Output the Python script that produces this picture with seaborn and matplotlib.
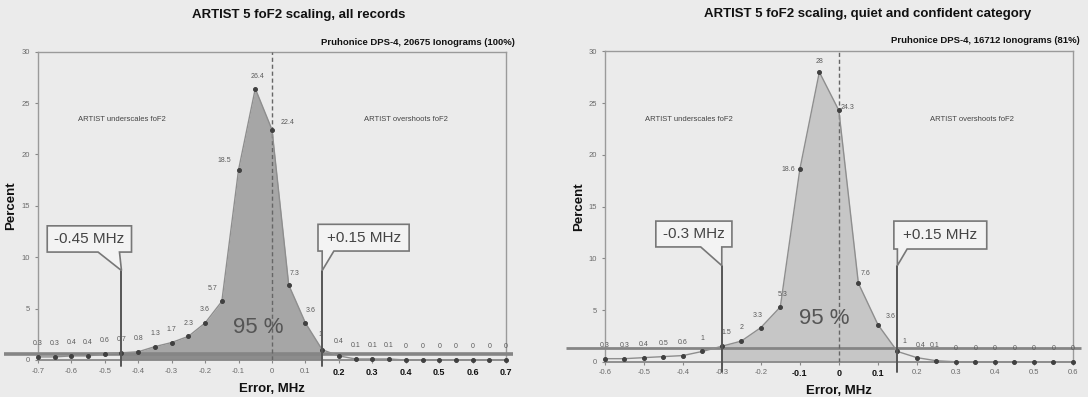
import matplotlib
matplotlib.use("Agg")
import matplotlib.pyplot as plt
from matplotlib.patches import Polygon
import numpy as np
import pandas as pd
import seaborn as sns

# ---- data -------------------------------------------------------------
# Left panel: all records (error bins in MHz, percent of ionograms)
err_all = [-0.70, -0.65, -0.60, -0.55, -0.50, -0.45, -0.40, -0.35, -0.30, -0.25,
           -0.20, -0.15, -0.10, -0.05, 0.00, 0.05, 0.10, 0.15, 0.20, 0.25,
           0.30, 0.35, 0.40, 0.45, 0.50, 0.55, 0.60, 0.65, 0.70]
pct_all = [0.3, 0.3, 0.4, 0.4, 0.6, 0.7, 0.8, 1.3, 1.7, 2.3,
           3.6, 5.7, 18.5, 26.4, 22.4, 7.3, 3.6, 1, 0.4, 0.1,
           0.1, 0.1, 0, 0, 0, 0, 0, 0, 0]
bounds_all = (-0.45, 0.15)
xticks_all = [-0.7, -0.6, -0.5, -0.4, -0.3, -0.2, -0.1, 0, 0.1, 0.2, 0.3, 0.4, 0.5, 0.6, 0.7]

# Right panel: quiet and confident category
err_q = [-0.60, -0.55, -0.50, -0.45, -0.40, -0.35, -0.30, -0.25, -0.20, -0.15,
         -0.10, -0.05, 0.00, 0.05, 0.10, 0.15, 0.20, 0.25, 0.30, 0.35,
         0.40, 0.45, 0.50, 0.55, 0.60]
pct_q = [0.3, 0.3, 0.4, 0.5, 0.6, 1, 1.5, 2, 3.3, 5.3,
         18.6, 28, 24.3, 7.6, 3.6, 1, 0.4, 0.1, 0, 0,
         0, 0, 0, 0, 0]
bounds_q = (-0.3, 0.15)
xticks_q = [-0.6, -0.5, -0.4, -0.3, -0.2, -0.1, 0, 0.1, 0.2, 0.3, 0.4, 0.5, 0.6]

titles = ["ARTIST 5 foF2 scaling, all records",
          "ARTIST 5 foF2 scaling, quiet and confident category"]
subtitles = ["Pruhonice DPS-4, 20675 Ionograms (100%)",
             "Pruhonice DPS-4, 16712 Ionograms (81%)"]
share_label = "95 %"

# ---- style ------------------------------------------------------------
sns.set_theme(style="white")
plt.rcParams["font.family"] = ["Liberation Sans", "DejaVu Sans"]
BG = "#ebebeb"
GRID = "#9a9a9a"

fig = plt.figure(figsize=(10.88, 3.97), dpi=100, facecolor=BG)
ax_l = fig.add_axes([0.0348, 0.0932, 0.4304, 0.7768])
ax_r = fig.add_axes([0.5558, 0.0887, 0.4304, 0.7818])


def fmt(v):
    return f"{v:g}"


def draw_panel(ax, err, pct, bounds, xticks, fill_col, base_y, base_lw,
               vline_top, vline_bot, callouts, label_offsets, bold_ticks,
               pct_xy, dark_band, ylabel_x):
    err = np.asarray(err, float)
    pct = np.asarray(pct, float)
    lo, hi = bounds
    ax.set_facecolor(BG)
    xmax = max(abs(err.min()), abs(err.max()))
    ax.set_xlim(-xmax, xmax)
    ax.set_ylim(0, 30)

    # shaded 95% region under the curve
    m = (err >= lo - 1e-9) & (err <= hi + 1e-9)
    ax.fill_between(err[m], pct[m], 0, color=fill_col, lw=0, zorder=2)
    if dark_band:
        ax.fill_between([lo, hi], 0, base_y, color="#8c8c8c", lw=0, zorder=2.5)

    # reference line near the bottom, running past the frame
    ax.plot([-xmax - 0.1, xmax + 0.02], [base_y, base_y], color="#858585",
            lw=base_lw, clip_on=False, zorder=3, solid_capstyle="butt")

    # zero error marker
    ax.plot([0, 0], [0, 30], color="#666666", lw=1, ls=(0, (3, 2)), zorder=3)

    # distribution curve
    df = pd.DataFrame({"err": err, "pct": pct})
    sns.lineplot(data=df, x="err", y="pct", ax=ax, sort=False, color="#8e8e8e",
                 lw=1.0, marker="o", markersize=2.8, markerfacecolor="#404040",
                 markeredgecolor="#404040", clip_on=False, zorder=5)

    # value labels
    for i, (x, y) in enumerate(zip(err, pct)):
        dx, dy = label_offsets.get(i, (0, 9.5))
        ax.annotate(fmt(y), (x, y), xytext=(dx, dy), textcoords="offset points",
                    ha="center", va="center", fontsize=5, color="#5a5a5a",
                    zorder=6, annotation_clip=False)

    # bound lines with callout boxes
    for bx, (box, wedge, text) in zip(bounds, callouts):
        ax.plot([bx, bx], [vline_bot, vline_top], color="#555555", lw=1.4,
                clip_on=False, zorder=6)
        x0, x1, y0, y1 = box
        xa, xb = wedge
        poly = Polygon([(x0, y0), (xa, y0), (bx, vline_top), (xb, y0),
                        (x1, y0), (x1, y1), (x0, y1)], closed=True,
                       facecolor="#f3f3f3", edgecolor="#777777", lw=1.2,
                       clip_on=False, zorder=7)
        ax.add_patch(poly)
        ax.text((x0 + x1) / 2, (y0 + y1) / 2, text, ha="center", va="center",
                fontsize=11, color="#444444", zorder=8)

    ax.text(pct_xy[0], pct_xy[1], share_label, ha="center", va="center",
            fontsize=16, color="#555555", zorder=6)

    # frame and ticks
    for s in ["left", "top", "right"]:
        ax.spines[s].set_color(GRID)
        ax.spines[s].set_linewidth(1.0)
    ax.spines["bottom"].set_color("#888888")
    ax.spines["bottom"].set_linewidth(1.3)
    ax.set_yticks([0, 5, 10, 15, 20, 25, 30])
    ax.set_xticks(xticks)
    ax.set_xticklabels([fmt(t) for t in xticks])
    ax.tick_params(axis="both", which="major", length=2.5, width=0.8,
                   color="#888888", labelsize=5.5, labelcolor="#6a6a6a", pad=3,
                   bottom=True, left=True)
    for t, lab in zip(xticks, ax.get_xticklabels()):
        if any(abs(t - b) < 1e-9 for b in bold_ticks):
            lab.set_fontweight("bold")
            lab.set_color("#111111")
            lab.set_fontsize(6.5)

    ax.set_xlabel("Error, MHz", fontsize=9.5, fontweight="bold", color="#111111")
    ax.set_ylabel("Percent", fontsize=9.5, fontweight="bold", color="#111111")
    ax.xaxis.set_label_coords(0.5, -0.075)
    ax.yaxis.set_label_coords(ylabel_x, 0.5)

    ax.text(-xmax * 0.64, 23.4, "ARTIST underscales foF2", ha="center",
            va="center", fontsize=5.5, color="#444444")
    ax.text(xmax * 0.57, 23.4, "ARTIST overshoots foF2", ha="center",
            va="center", fontsize=5.5, color="#444444")


# left panel
draw_panel(
    ax_l, err_all, pct_all, bounds_all, xticks_all, "#a6a6a6",
    base_y=0.6, base_lw=2.6, vline_top=8.7, vline_bot=-0.6,
    callouts=[((-0.672, -0.42, 10.5, 13.05), (-0.52, -0.456), f"{bounds_all[0]:+g} MHz".replace("+", "")),
              ((0.1375, 0.41, 10.6, 13.2), (0.15, 0.185), f"{bounds_all[1]:+g} MHz")],
    label_offsets={11: (-7, 9), 12: (-10.5, 7), 13: (1.5, 8.5), 14: (11, 5),
                   15: (4, 8), 16: (3.5, 9), 17: (-1, 11), 18: (-0.5, 10)},
    bold_ticks=[0.2, 0.3, 0.4, 0.5, 0.6, 0.7],
    pct_xy=(-0.04, 3.2), dark_band=True, ylabel_x=-0.045)

# right panel
draw_panel(
    ax_r, err_q, pct_q, bounds_q, xticks_q, "#c6c6c6",
    base_y=1.3, base_lw=2.0, vline_top=9.3, vline_bot=-1.0,
    callouts=[((-0.469, -0.274, 11.1, 13.6), (-0.354, -0.30), f"{bounds_q[0]:+g} MHz".replace("+", "")),
              ((0.141, 0.379, 10.9, 13.6), (0.15, 0.175), f"{bounds_q[1]:+g} MHz")],
    label_offsets={6: (3, 10), 8: (-2, 8.5), 9: (2, 9), 10: (-8, 0), 11: (0.5, 7.5),
                   12: (6.5, 2), 13: (5, 7), 14: (9, 6), 15: (5, 7.5), 16: (2.5, 8.5),
                   17: (-1, 11)},
    bold_ticks=[-0.1, 0, 0.1],
    pct_xy=(-0.038, 4.2), dark_band=False, ylabel_x=-0.042)

# titles
for xc, yt, title in [(0.2744, 0.961, titles[0]), (0.797, 0.965, titles[1])]:
    fig.text(xc, yt, title, ha="center", va="center", fontsize=9.5,
             fontweight="bold", color="#111111")
for xr, ys, sub in [(0.4733, 0.894, subtitles[0]), (0.9926, 0.899, subtitles[1])]:
    fig.text(xr, ys, sub, ha="right", va="center", fontsize=6.8,
             fontweight="bold", color="#111111")

fig.savefig("out.png", dpi=100, facecolor=BG)
